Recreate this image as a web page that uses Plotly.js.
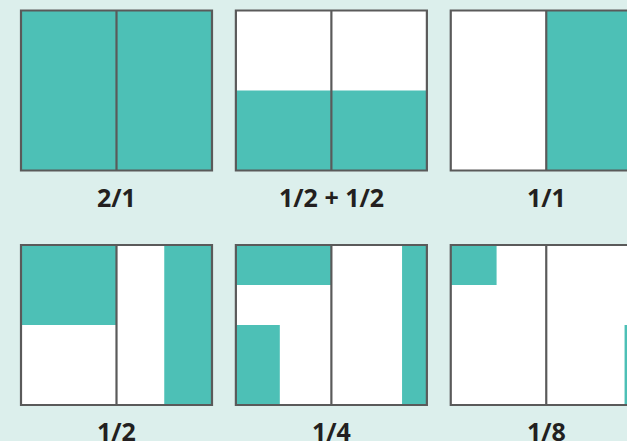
<!DOCTYPE html>
<html>
<head>
<meta charset="utf-8">
<script src="https://cdn.plot.ly/plotly-3.0.1.min.js"></script>
<style>html,body{margin:0;padding:0;background:#DCEFEC;}#chart{width:627px;height:441px;}</style>
</head>
<body>
<div id="chart"></div>
<script>
// Panel labels (fraction shown below each box)
const labels = ["2/1", "1/2 + 1/2", "1/1", "1/2", "1/4", "1/8"];

// Filled (teal) regions, in box units: each box is 2 units wide (two halves) and 1 unit tall
const fillPanel = [0, 1, 1, 2, 3, 3, 4, 4, 4, 5, 5];
const fillX0    = [0, 0, 1, 1, 0, 1.5, 0, 0, 1.74, 0, 1.82];
const fillX1    = [2, 1, 2, 2, 1, 2, 1, 0.46, 2, 0.48, 2];
const fillY0    = [0, 0, 0, 0, 0.5, 0, 0.75, 0, 0, 0.75, 0];
const fillY1    = [1, 0.5, 0.5, 1, 1, 1, 1, 0.5, 1, 1, 0.5];

const TEAL = "#4DC0B6", LINE = "#5A5A5A", BG = "#DCEFEC";
const colStep = 2.25, row0Base = 1.4656;
function origin(i) {
  const col = i % 3, row = Math.floor(i / 3);
  return [col * colStep, row === 0 ? row0Base : 0];
}

const shapes = [];
// white box backgrounds
labels.forEach((_, i) => {
  const [ox, oy] = origin(i);
  shapes.push({type: "rect", xref: "x", yref: "y", x0: ox, x1: ox + 2, y0: oy, y1: oy + 1,
    fillcolor: "#FFFFFF", line: {width: 0}, layer: "below"});
});
// teal fills
fillPanel.forEach((p, k) => {
  const [ox, oy] = origin(p);
  shapes.push({type: "rect", xref: "x", yref: "y",
    x0: ox + fillX0[k], x1: ox + fillX1[k], y0: oy + fillY0[k], y1: oy + fillY1[k],
    fillcolor: TEAL, line: {width: 0}, layer: "above"});
});
// outlines and dividers
labels.forEach((_, i) => {
  const [ox, oy] = origin(i);
  shapes.push({type: "line", xref: "x", yref: "y", x0: ox + 1, x1: ox + 1, y0: oy, y1: oy + 1,
    line: {color: LINE, width: 2.2}, layer: "above"});
  shapes.push({type: "rect", xref: "x", yref: "y", x0: ox, x1: ox + 2, y0: oy, y1: oy + 1,
    fillcolor: "rgba(0,0,0,0)", line: {color: LINE, width: 2.2}, layer: "above"});
});

const annotations = labels.map((t, i) => {
  const [ox, oy] = origin(i);
  return {x: ox + 1, y: oy - 0.165, xref: "x", yref: "y", text: "<b>" + t + "</b>",
    showarrow: false, xanchor: "center", yanchor: "middle",
    font: {family: "Open Sans", size: 25, color: "#231F20"}};
});

const layout = {
  width: 627, height: 441,
  margin: {l: 0, r: 0, t: 0, b: 0},
  paper_bgcolor: BG, plot_bgcolor: BG,
  xaxis: {range: [-21 / 95.5, (627 - 21) / 95.5], visible: false, fixedrange: true},
  yaxis: {range: [-36 / 160, 405 / 160], visible: false, fixedrange: true},
  shapes: shapes, annotations: annotations, showlegend: false
};
Plotly.newPlot("chart", [{x: [], y: [], type: "scatter", hoverinfo: "skip"}], layout,
  {displayModeBar: false, staticPlot: true});
</script>
</body>
</html>
